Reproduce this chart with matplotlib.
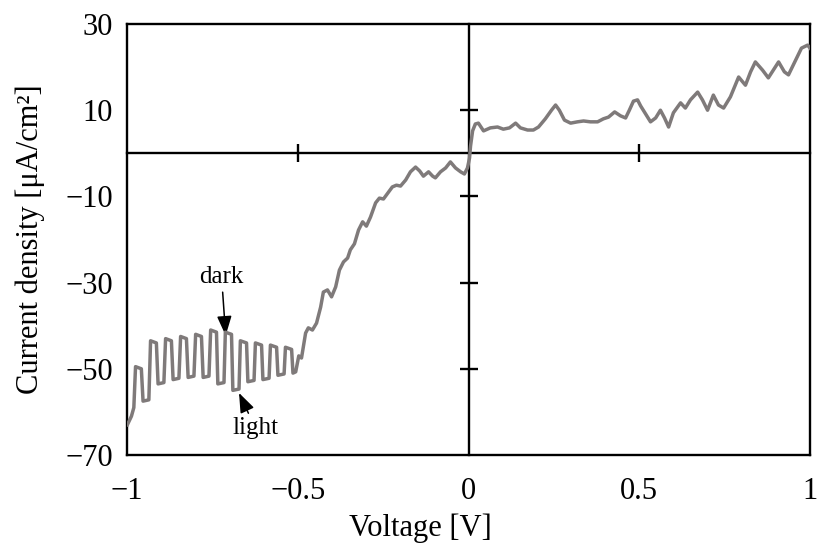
import matplotlib
matplotlib.use("Agg")
import matplotlib.pyplot as plt
from matplotlib.patches import ArrowStyle

plt.rcParams['font.family'] = ['Liberation Serif', 'DejaVu Serif']
plt.rcParams['axes.unicode_minus'] = True

# I-V sweep under chopped illumination (dark / light steps below -0.5 V)
voltage = [
    -0.999, -0.987, -0.980, -0.975, -0.958, -0.953,
    -0.936, -0.931, -0.914, -0.909,
    -0.892, -0.887, -0.870, -0.865,
    -0.848, -0.843, -0.826, -0.821,
    -0.804, -0.799, -0.782, -0.777,
    -0.760, -0.755, -0.738, -0.734,
    -0.716, -0.712, -0.694, -0.690,
    -0.672, -0.668, -0.650, -0.646,
    -0.628, -0.624, -0.606, -0.602,
    -0.584, -0.580, -0.562, -0.558,
    -0.540, -0.536, -0.518, -0.514,
    -0.506, -0.497, -0.489,
    -0.477, -0.469, -0.457, -0.445, -0.433, -0.425, -0.413,
    -0.401, -0.389, -0.378, -0.366, -0.354, -0.346, -0.334, -0.322, -0.310, -0.299,
    -0.287, -0.272, -0.261, -0.249, -0.234, -0.223, -0.211, -0.199, -0.184, -0.170,
    -0.155, -0.143, -0.132, -0.117, -0.105, -0.097, -0.082, -0.067, -0.053, -0.038,
    -0.023, -0.012, -0.003, 0.003, 0.006, 0.012, 0.020, 0.029, 0.044, 0.064,
    0.085, 0.102, 0.120, 0.138, 0.152, 0.173, 0.190, 0.205, 0.225, 0.243,
    0.255, 0.266, 0.281, 0.299, 0.319, 0.337, 0.357, 0.378, 0.395, 0.410,
    0.428, 0.445, 0.460, 0.471, 0.483, 0.495, 0.504, 0.515, 0.533, 0.548,
    0.562, 0.574, 0.586, 0.600, 0.621, 0.635, 0.650, 0.671, 0.685, 0.700,
    0.717, 0.732, 0.747, 0.767, 0.791, 0.811, 0.826, 0.840, 0.861, 0.878,
    0.908, 0.925, 0.937, 0.958, 0.975, 0.993, 1.000,
]
current_density = [
    -63.0, -61.0, -59.0, -49.5, -50.0, -57.5,
    -57.2, -43.5, -44.0, -53.5,
    -53.2, -43.0, -43.5, -52.5,
    -52.2, -42.5, -43.0, -52.0,
    -51.7, -42.0, -42.5, -52.0,
    -51.7, -41.0, -41.5, -53.5,
    -53.2, -41.5, -42.0, -55.0,
    -54.7, -43.5, -44.0, -53.0,
    -52.7, -44.0, -44.5, -52.5,
    -52.2, -44.5, -45.0, -51.5,
    -51.2, -45.0, -45.5, -51.0,
    -50.7, -47.0, -47.5,
    -41.7, -40.5, -41.0, -39.4, -35.7, -32.2, -31.7,
    -33.3, -31.0, -27.1, -25.2, -24.3, -22.4, -21.0, -17.8, -15.9, -16.9,
    -14.8, -11.5, -10.4, -10.6, -9.0, -7.8, -7.4, -7.6, -6.2, -4.3,
    -3.2, -4.1, -5.3, -4.3, -5.3, -5.7, -4.3, -3.4, -2.0, -3.4,
    -4.3, -4.8, -3.4, -1.1, 1.7, 5.2, 6.8, 7.0, 5.2, 5.9,
    6.1, 5.6, 5.9, 7.0, 5.9, 5.4, 5.4, 6.1, 8.0, 10.0,
    11.2, 10.0, 7.7, 7.0, 7.3, 7.5, 7.3, 7.3, 8.0, 8.4,
    9.6, 8.7, 8.2, 10.0, 12.1, 12.4, 11.0, 9.6, 7.3, 8.2,
    10.0, 8.2, 6.1, 9.4, 11.7, 10.5, 12.4, 14.2, 12.4, 10.0,
    13.5, 11.2, 10.5, 13.1, 17.7, 15.8, 18.9, 21.2, 19.3, 17.5,
    21.2, 18.9, 18.2, 21.6, 24.4, 25.1, 24.4,
]

x_ticks = [-1, -0.5, 0, 0.5, 1]
x_tick_labels = ['\u22121', '\u22120.5', '0', '0.5', '1']
y_ticks = [30, 10, -10, -30, -50, -70]
y_tick_labels = ['30', '10', '\u221210', '\u221230', '\u221250', '\u221270']
cross_x_ticks = [-0.5, 0.5]
cross_y_ticks = [10, -10, -30, -50]

xlim = (-1, 1)
ylim = (-70, 30)

W, H = 818, 544
fig = plt.figure(figsize=(W / 100, H / 100), dpi=100)
rect = [127 / W, 1 - 455 / H, (810 - 127) / W, (455 - 24) / H]

# outer frame with tick labels
ax = fig.add_axes(rect)
ax.set_xlim(*xlim)
ax.set_ylim(*ylim)
ax.set_xticks(x_ticks)
ax.set_xticklabels(x_tick_labels)
ax.set_yticks(y_ticks)
ax.set_yticklabels(y_tick_labels)
ax.tick_params(axis='both', length=0, labelsize=22)
ax.tick_params(axis='y', pad=10)
ax.tick_params(axis='x', pad=16)
for s in ax.spines.values():
    s.set_linewidth(1.7)
    s.set_color('black')
ax.set_xlabel('Voltage [V]', fontsize=22)
ax.xaxis.set_label_coords(0.429, -0.135)
ax.set_ylabel('Current density [\u03bcA/cm\u00b2]', fontsize=22)
ax.yaxis.set_label_coords(-0.12, 0.5)

# axes crossing at the origin
axc = fig.add_axes(rect)
axc.patch.set_visible(False)
axc.set_xlim(*xlim)
axc.set_ylim(*ylim)
axc.spines['top'].set_visible(False)
axc.spines['right'].set_visible(False)
axc.spines['left'].set_position(('data', 0))
axc.spines['bottom'].set_position(('data', 0))
for name in ('left', 'bottom'):
    axc.spines[name].set_linewidth(1.7)
axc.set_xticks(cross_x_ticks)
axc.set_yticks(cross_y_ticks)
axc.tick_params(axis='both', direction='inout', length=13, width=1.7,
                labelbottom=False, labelleft=False)

axc.plot(voltage, current_density, color='#7f7a7a', lw=2.5,
         solid_joinstyle='round', zorder=5)

arrow = dict(arrowstyle=ArrowStyle('-|>', head_length=0.8, head_width=0.3),
             color='black', lw=1.1, mutation_scale=15, shrinkA=1, shrinkB=0)
axc.annotate('dark', xy=(-0.711, -42.3), xytext=(-0.723, -28.7),
             fontsize=18, ha='center', va='center', arrowprops=arrow)
axc.annotate('light', xy=(-0.672, -55.6), xytext=(-0.624, -63.8),
             fontsize=18, ha='center', va='center', arrowprops=arrow)

fig.savefig('out.png', dpi=100)
